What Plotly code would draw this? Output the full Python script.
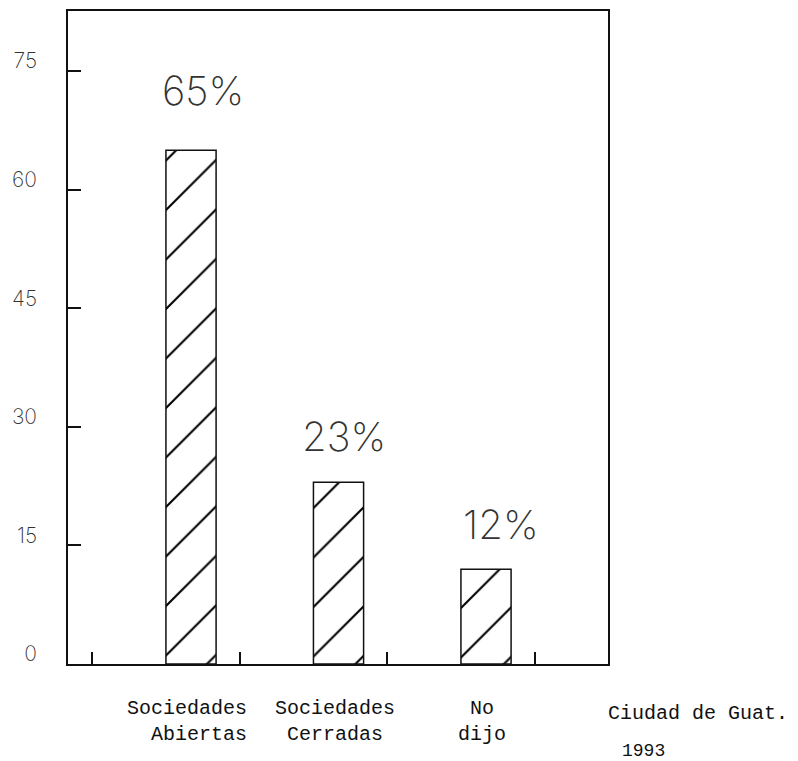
import plotly.graph_objects as go

categories = ["Sociedades<br>Abiertas", "Sociedades<br>Cerradas", "No<br>dijo"]
values = [65, 23, 12]
value_labels = ["65%", "23%", "12%"]
y_ticks = [0, 15, 30, 45, 60, 75]
y_ticktext = ["0", "15", "30", "45", "60", "75"]
note_place = "Ciudad de Guat."
note_year = "1993"

INK = "#111111"
TXT = "#333333"

xpos = list(range(len(categories)))

fig = go.Figure()
fig.add_trace(go.Bar(
    x=xpos, y=values, width=0.34,
    marker=dict(color="white",
                line=dict(color=INK, width=1.5),
                pattern=dict(shape="/", fgcolor="#000000", fgopacity=1,
                             bgcolor="white", size=35, solidity=0.06)),
    showlegend=False, hoverinfo="skip",
))

annotations = []
label_dx = [0.08, 0.04, 0.1]
label_shift = [33, 19, 18]
for i, (v, t) in enumerate(zip(values, value_labels)):
    annotations.append(dict(
        x=xpos[i] + label_dx[i], y=v, xref="x", yref="y", text=t,
        showarrow=False, yanchor="bottom", yshift=label_shift[i],
        font=dict(family="Inter", size=40, color=TXT, weight=200),
    ))

aligns = ["right", "center", "center"]
for i, c in enumerate(categories):
    annotations.append(dict(
        x=xpos[i], y=0, xref="x", yref="y", text=c, showarrow=False,
        yanchor="top", yshift=-31, xshift=-4, align=aligns[i],
        font=dict(family="Liberation Mono", size=20, color=INK),
    ))

annotations.append(dict(
    x=0.996, y=-0.0763, xref="paper", yref="paper", text=note_place,
    showarrow=False, xanchor="left", yanchor="middle",
    font=dict(family="Liberation Mono", size=20, color=INK),
))
annotations.append(dict(
    x=1.022, y=-0.133, xref="paper", yref="paper", text=note_year,
    showarrow=False, xanchor="left", yanchor="middle",
    font=dict(family="Liberation Mono", size=18, color=INK),
))

fig.update_layout(
    width=798, height=761,
    margin=dict(l=60, r=198, t=1, b=105),
    paper_bgcolor="white", plot_bgcolor="white",
    annotations=annotations,
    xaxis=dict(range=[-0.834, 2.827],
               tickvals=[p - 0.67 for p in xpos + [len(xpos)]],
               showticklabels=False, ticks="inside", ticklen=12,
               tickwidth=1.5, tickcolor=INK,
               showline=True, linewidth=1.5, linecolor=INK, mirror=True,
               showgrid=False, zeroline=False, fixedrange=True),
    yaxis=dict(range=[0, 82.6], tickvals=y_ticks, ticktext=y_ticktext,
               ticks="inside", ticklen=13, tickwidth=1.5, tickcolor=INK,
               ticklabelstandoff=25, ticklabelshift=-10,
               tickfont=dict(family="Inter", size=21, color=TXT, weight=200),
               showline=True, linewidth=1.5, linecolor=INK, mirror=True,
               showgrid=False, zeroline=False, fixedrange=True),
)

fig.write_html("out.html")
